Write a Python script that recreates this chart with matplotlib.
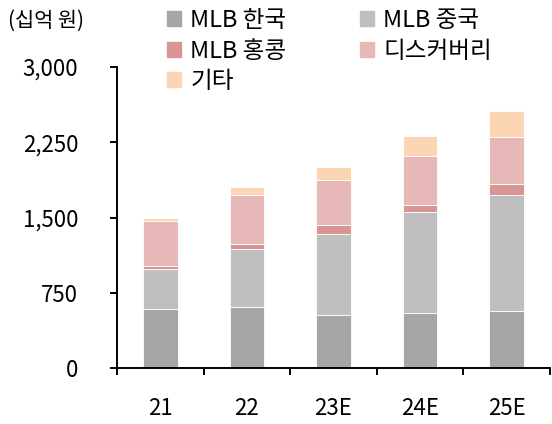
import numpy as np
from matplotlib import pyplot as plt
from matplotlib.patches import Patch

plt.rcParams['font.family'] = ['Noto Sans CJK KR', 'DejaVu Sans']

years = ["21", "22", "23E", "24E", "25E"]
mlb_korea = [591, 611, 531, 551, 571]
mlb_china = [396, 572, 805, 1004, 1153]
mlb_hk = [33, 53, 89, 73, 113]
discovery = [448, 491, 452, 488, 468]
others = [27, 77, 123, 196, 256]

series_names = ["MLB 한국", "MLB 중국", "MLB 홍콩", "디스커버리", "기타"]
colors = ["#a6a6a6", "#bfbfbf", "#d99594", "#e6b8b7", "#fcd5b4"]

fig = plt.figure(figsize=(5.52, 4.24), dpi=100)
ax = fig.add_axes([117 / 552, 56 / 424, 433 / 552, 301 / 424])

x = np.arange(len(years))
bottom = np.zeros(len(years))
for vals, name, c in zip([mlb_korea, mlb_china, mlb_hk, discovery, others], series_names, colors):
    ax.bar(x, vals, width=0.4, bottom=bottom, color=c, edgecolor="white", linewidth=0.6, label=name)
    bottom += np.array(vals)

ax.set_xlim(-0.5, 4.5)
ax.set_ylim(0, 3000)
ax.set_yticks([0, 750, 1500, 2250, 3000])
ax.set_yticklabels(["0", "750", "1,500", "2,250", "3,000"])
ax.set_xticks(np.arange(-0.5, 5, 1.0))
ax.set_xticklabels([])
ax.set_xticks(x, minor=True)
ax.set_xticklabels(years, minor=True)

for s in ["top", "right"]:
    ax.spines[s].set_visible(False)
for s in ["left", "bottom"]:
    ax.spines[s].set_linewidth(1.4)
ax.tick_params(axis="y", direction="out", length=5, width=1.4, labelsize=16, pad=23)
ax.tick_params(axis="x", which="major", direction="out", length=5, width=1.4)
ax.tick_params(axis="x", which="minor", length=0, labelsize=16, pad=21)

fig.text(8 / 552, 1 - 21 / 424, "(십억 원)", fontsize=15, va="center", ha="left")

handles = [Patch(color=c) for c in colors]
order = [0, 2, 4, 1, 3]
ax.legend([handles[i] for i in order], [series_names[i] for i in order],
          ncol=2, loc="upper left", bbox_to_anchor=(162 / 552, 1 - 4 / 424),
          bbox_transform=fig.transFigure, frameon=False, fontsize=17,
          handlelength=0.6, handleheight=0.6, handletextpad=0.4,
          labelspacing=0.33, columnspacing=3.1, borderaxespad=0, borderpad=0.2)

plt.savefig("out.png", dpi=100)
